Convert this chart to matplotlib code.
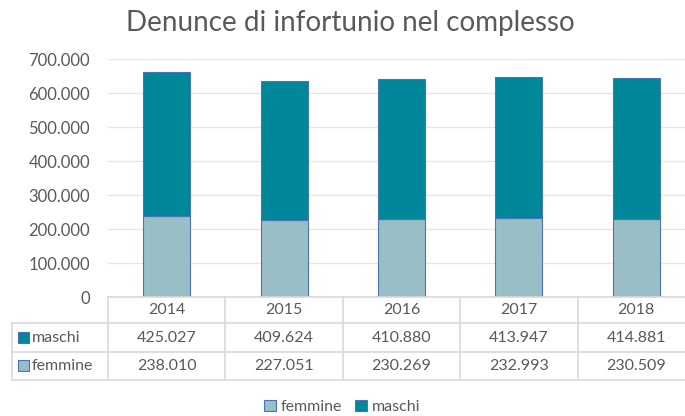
import matplotlib
matplotlib.use("Agg")
import matplotlib.pyplot as plt
from matplotlib.patches import Patch, Rectangle
from matplotlib.lines import Line2D
from matplotlib.transforms import blended_transform_factory
from matplotlib.ticker import FuncFormatter

years = ["2014", "2015", "2016", "2017", "2018"]
maschi = [425027, 409624, 410880, 413947, 414881]
femmine = [238010, 227051, 230269, 232993, 230509]
title = "Denunce di infortunio nel complesso"

C_M = "#00879A"
C_F = "#9ABEC6"
EDGE = "#4A74B4"
GRID = "#E6E6E6"
TXT = "#595959"
TBL = "#D9D9D9"

plt.rcParams['font.family'] = ['Lato', 'DejaVu Sans']

W, H = 685, 416
fig = plt.figure(figsize=(W / 100, H / 100), dpi=100)

def fx(px):
    return px / W

def fy(py):
    return 1 - py / H

y0, ytop = 297.3, 59.3
xl, xr = 108, 695
ax = fig.add_axes([fx(xl), fy(y0), fx(xr - xl), (y0 - ytop) / H])
x = list(range(len(years)))
ax.bar(x, femmine, width=0.4, color=C_F, edgecolor=EDGE, linewidth=0.8, label="femmine", zorder=3)
ax.bar(x, maschi, width=0.4, bottom=femmine, color=C_M, edgecolor=EDGE, linewidth=0.8, label="maschi", zorder=3)
ax.set_xlim(-0.5, len(years) - 0.5)
ax.set_ylim(0, 700000)
ax.set_yticks(range(0, 700001, 100000))
ax.yaxis.set_major_formatter(FuncFormatter(lambda v, p: f"{int(v):,}".replace(",", ".")))
ax.grid(axis='y', color=GRID, linewidth=1, zorder=0)
ax.set_axisbelow(True)
for s in ax.spines.values():
    s.set_visible(False)
ax.tick_params(axis='y', length=0, labelsize=12, labelcolor=TXT, pad=13)
ax.set_xticks([])

fig.text(fx(350), fy(23), title, ha='center', va='center', fontsize=20, color=TXT)

# data table
tr = blended_transform_factory(ax.transData, fig.transFigure)
rows_y = [297.3, 323.3, 351.7, 380]
n = len(years)
for i in range(n + 1):
    xv = i - 0.5
    fig.add_artist(Line2D([xv, xv], [fy(rows_y[0]), fy(rows_y[-1])], transform=tr, color=TBL, lw=1.2, clip_on=False))
fig.add_artist(Line2D([fx(12), fx(12)], [fy(rows_y[1]), fy(rows_y[-1])], transform=fig.transFigure, color=TBL, lw=1.2))
fig.add_artist(Line2D([-0.5, n - 0.5], [fy(rows_y[0])] * 2, transform=tr, color=TBL, lw=1.2, clip_on=False))
for ry in rows_y[1:]:
    fig.add_artist(Line2D([fx(12), fx(xr)], [fy(ry)] * 2, transform=fig.transFigure, color=TBL, lw=1.2))

fs = 11.5
for i, yr in enumerate(years):
    fig.text(i, fy((rows_y[0] + rows_y[1]) / 2), yr, transform=tr, ha='center', va='center', fontsize=fs, color=TXT)
    fig.text(i, fy((rows_y[1] + rows_y[2]) / 2), f"{maschi[i]:,}".replace(",", "."), transform=tr,
             ha='center', va='center', fontsize=fs, color=TXT)
    fig.text(i, fy((rows_y[2] + rows_y[3]) / 2), f"{femmine[i]:,}".replace(",", "."), transform=tr,
             ha='center', va='center', fontsize=fs, color=TXT)

for label, col, (ya, yb) in [("maschi", C_M, (rows_y[1], rows_y[2])), ("femmine", C_F, (rows_y[2], rows_y[3]))]:
    yc = (ya + yb) / 2
    fig.add_artist(Rectangle((fx(18), fy(yc + 5)), fx(10.5), 10.5 / H, transform=fig.transFigure,
                             facecolor=col, edgecolor=EDGE, lw=0.8))
    fig.text(fx(32), fy(yc), label, ha='left', va='center', fontsize=fs, color=TXT)

handles = [Patch(facecolor=C_F, edgecolor=EDGE, lw=0.8, label="femmine"),
           Patch(facecolor=C_M, edgecolor=EDGE, lw=0.8, label="maschi")]
fig.legend(handles=handles, loc='center', bbox_to_anchor=(fx(342), fy(407)), ncol=2, frameon=False,
           fontsize=fs, labelcolor=TXT, handlelength=0.75, handleheight=0.75, handletextpad=0.3,
           columnspacing=0.8)

fig.savefig("out.png", dpi=100)
